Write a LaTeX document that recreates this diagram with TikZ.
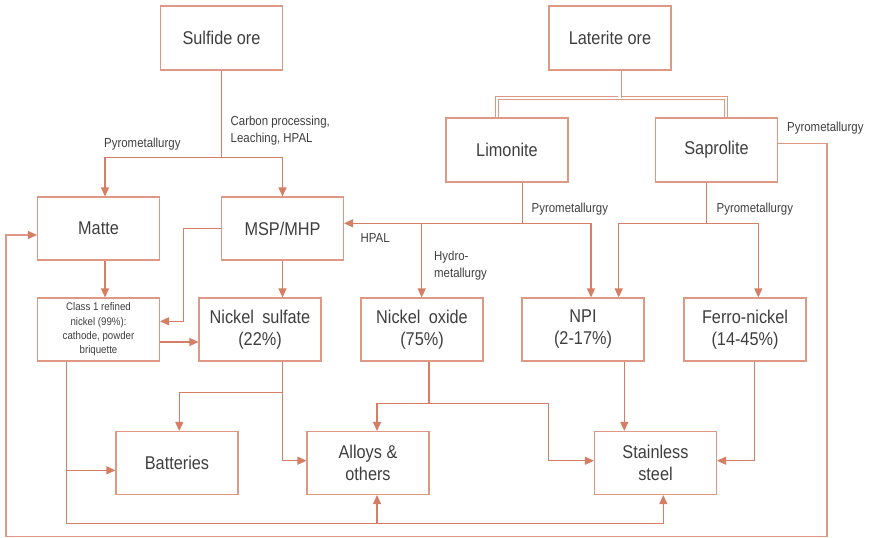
\documentclass[tikz,border=0pt]{standalone}
\usepackage{fontspec}
\setmainfont{Liberation Sans}[FakeStretch=0.88]
\usetikzlibrary{arrows.meta,calc,backgrounds}
\definecolor{arrc}{RGB}{214,126,100}
\definecolor{boxc}{RGB}{222,152,132}
\definecolor{txtc}{RGB}{62,62,62}
\begin{document}
\begin{tikzpicture}[x=1pt,y=-1pt,
 box/.style={draw=boxc, line width=1.1pt, minimum width=122pt, minimum height=63pt, inner sep=0pt, align=center, text=txtc, font=\fontsize{18.5}{22}\selectfont},
 lbl/.style={inner sep=0pt, text=txtc, font=\fontsize{13}{17}\selectfont, align=left, anchor=west},
 conn/.style={draw=arrc, line width=1.1pt},
 arr/.style={conn, -{Triangle[length=9pt,width=8pt]}},
 loopln/.style={draw=boxc, line width=1.1pt},
 dbl/.style={draw=boxc, line width=0.9pt, double=white, double distance=2.2pt}]
\useasboundingbox (0,0) rectangle (870,538);
% boxes
\node[box, minimum height=64pt] (sulf) at (221.5,38) {Sulfide ore};
\node[box, minimum height=64pt] (lat) at (610,38) {Laterite ore};
\node[box, minimum height=64pt] (lim) at (507,150) {Limonite};
\node[box, minimum height=64pt] (sap) at (716.5,150) {Saprolite};
\node[box] (matte) at (98.5,228.5) {Matte};
\node[box] (msp) at (282.5,228.5) {MSP/MHP};
\node[box, font=\fontsize{11}{14.3}\selectfont] (cls) at (98.5,329.5) {Class 1 refined\\nickel (99\%):\\cathode, powder\\briquette};
\node[box] (nsul) at (260,329.5) {Nickel\hspace{0.45em}sulfate\\(22\%)};
\node[box] (nox) at (422,329.5) {Nickel\hspace{0.45em}oxide\\(75\%)};
\node[box] (npi) at (583,329.5) {NPI\\(2-17\%)};
\node[box] (ferro) at (745,329.5) {Ferro-nickel\\(14-45\%)};
\node[box] (batt) at (177,463) {Batteries};
\node[box] (alloy) at (368,463) {Alloys \&\\others};
\node[box] (stain) at (655.5,463) {Stainless\\steel};
% labels
\node[lbl] (t1) at (104,144) {Pyrometallurgy};
\node[lbl] (t2) at (230.5,130.5) {Carbon processing,\\Leaching, HPAL};
\node[lbl] (t3) at (787,127.7) {Pyrometallurgy};
\node[lbl] (t4) at (531.5,209) {Pyrometallurgy};
\node[lbl] (t5) at (360.5,238) {HPAL};
\node[lbl] (t6) at (434,265.3) {Hydro-\\metallurgy};
\node[lbl] (t7) at (716.5,209) {Pyrometallurgy};
\begin{scope}[on background layer]
% sulfide ore
\coordinate (j1) at (221.5,157.3);
\draw[conn] (sulf.south) -- (j1);
\draw[arr] (j1) -| ($(matte.north)+(6.5,0)$);
\draw[arr] (j1) -| (msp.north);
\draw[arr] ($(matte.south)+(6.5,0)$) -- ($(cls.north)+(6.5,0)$);
\draw[arr] (msp.south) -- (msp.south |- nsul.north);
\draw[arr] (msp.west) -| ($(cls.east)+(23,-8.2)$) -- ($(cls.east)+(0,-8.2)$);
\draw[arr] ($(cls.east)+(0,12.5)$) -- ($(nsul.west)+(0,12.5)$);
% nickel sulfate
\coordinate (j2) at (282.7,392.3);
\draw[conn] ($(nsul.south)+(22.7,0)$) -- (j2);
\draw[arr] (j2) -| ($(batt.north)+(2.3,0)$);
\draw[arr] (j2) |- ($(alloy.west)+(0,-2.3)$);
% class 1
\coordinate (j3) at (66.7,470.3);
\coordinate (j4) at (66.7,523.3);
\coordinate (j5) at (377,523.3);
\draw[arr] ($(cls.south)+(-31.8,0)$) -- (j4) -| ($(stain.south)+(7.8,0)$);
\draw[arr] (j3) -- (j3 -| batt.west);
\draw[arr] (j5) -- (j5 |- alloy.south);
% outer loop
\coordinate (l1) at (827,143.3);
\coordinate (l2) at (827,536.7);
\coordinate (l3) at (6,536.7);
\draw[loopln, -{Triangle[length=9pt,width=8pt,color=arrc]}] ($(sap.east)+(0,-6.7)$) -- (l1) -- (l2) -- (l3) |- ($(matte.west)+(0,6.5)$);
% limonite
\coordinate (j6) at (522.3,223.3);
\draw[conn] ($(lim.south)+(15.3,0)$) -- (j6);
\draw[arr] (j6) -- (j6 -| msp.east);
\draw[arr] (j6) -| ($(npi.north)+(8,0)$);
\coordinate (j7) at (421.7,223.3);
\draw[arr] (j7) -- (j7 |- nox.north);
% saprolite
\coordinate (j8) at (706.7,223.3);
\draw[conn] ($(sap.south)+(-9.8,0)$) -- (j8);
\draw[arr] (j8) -| ($(npi.north)+(35.7,0)$);
\draw[arr] (j8) -| ($(ferro.north)+(13.3,0)$);
% nickel oxide
\coordinate (j9) at (429,403.3);
\draw[conn] ($(nox.south)+(7,0)$) -- (j9);
\draw[arr] (j9) -| ($(alloy.north)+(9,0)$);
\coordinate (j10) at (548.7,460.7);
\draw[arr] (j9) -| (j10) -- (j10 -| stain.west);
% NPI, ferro
\draw[arr] ($(npi.south)+(41.3,0)$) -- ($(stain.north)+(-31.2,0)$);
\draw[arr] ($(ferro.south)+(9.3,0)$) |- ($(stain.east)+(0,-2.3)$);
% laterite double lines
\coordinate (d1) at (497,98);
\coordinate (d2) at (726,98);
\coordinate (d3) at (619.5,98);
\draw[dbl] ($(lim.north)+(-10,0)$) -- (d1) -- (d2) -- ($(sap.north)+(9.5,0)$);
\draw[dbl] ($(lat.south)+(9.5,0)$) -- (d3);
\end{scope}
\end{tikzpicture}
\end{document}
